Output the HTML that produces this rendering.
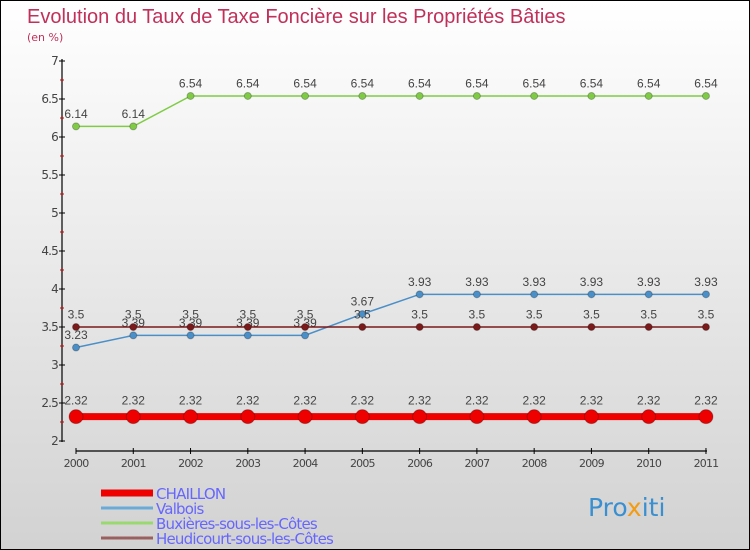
<!DOCTYPE html>
<html><head><meta charset="utf-8"><style>
body{margin:0}
#c{width:750px;height:550px;position:relative;box-sizing:border-box;border:1px solid #000;background:linear-gradient(#ffffff,#d2d2d2);font-family:"DejaVu Sans","Liberation Sans",sans-serif;overflow:hidden}
svg text{font-family:"DejaVu Sans","Liberation Sans",sans-serif}
</style></head><body>
<div id="c">
<svg id="s" width="750" height="550">
<text x="26" y="22" font-size="20" fill="#c0305a" style="font-family:'Liberation Sans',sans-serif">Evolution du Taux de Taxe Foncière sur les Propriétés Bâties</text>
<text x="26" y="40" font-size="11" fill="#c0305a">(en %)</text>
<text x="587" y="515" font-size="25" fill="#3a8fd0">Pro<tspan fill="#f39c12">x</tspan>iti</text>
</svg>
</div>
<script>
const years=['2000','2001','2002','2003','2004','2005','2006','2007','2008','2009','2010','2011'];
const chaillon=[2.32,2.32,2.32,2.32,2.32,2.32,2.32,2.32,2.32,2.32,2.32,2.32];
const valbois=[3.23,3.39,3.39,3.39,3.39,3.67,3.93,3.93,3.93,3.93,3.93,3.93];
const buxieres=[6.14,6.14,6.54,6.54,6.54,6.54,6.54,6.54,6.54,6.54,6.54,6.54];
const heudicourt=[3.5,3.5,3.5,3.5,3.5,3.5,3.5,3.5,3.5,3.5,3.5,3.5];
const yTicks=['2','2.5','3','3.5','4','4.5','5','5.5','6','6.5','7'];
const seriesNames=['CHAILLON','Valbois','Buxières-sous-les-Côtes','Heudicourt-sous-les-Côtes'];
const NS='http://www.w3.org/2000/svg';const s=document.getElementById('s');
const X=i=>75+i*57.27;const Y=v=>440-(v-2)*76;
function el(t,a,n,inter){const e=document.createElementNS(NS,t);for(const k in a)e.setAttribute(k,a[k]);


s.appendChild(e);return e;}
el('line',{x1:61,y1:58,x2:61,y2:441,stroke:'#000','stroke-width':1.2},'y-axis-line');
el('line',{x1:75,y1:450,x2:706,y2:450,stroke:'#000','stroke-width':1.2},'x-axis-line');
yTicks.forEach((t,i)=>{const v=parseFloat(t),y=Y(v);
el('line',{x1:58,y1:y,x2:64,y2:y,stroke:'#000'},'y-tick');
if(i<yTicks.length-1)el('line',{x1:59,y1:Y(v+0.25),x2:63,y2:Y(v+0.25),stroke:'#d00'},'y-minor-tick');
const tx=el('text',{x:57,y:y+4,'font-size':12,fill:'#444','text-anchor':'end','letter-spacing':'-0.8'},'y-tick-label');tx.textContent=t;});
years.forEach((t,i)=>{el('line',{x1:X(i),y1:447,x2:X(i),y2:453,stroke:'#000'},'x-tick');
const tx=el('text',{x:X(i),y:466,'font-size':11,fill:'#444','text-anchor':'middle','letter-spacing':'-0.8'},'x-tick-label');tx.textContent=t;});
function series(d,col,lw,r,name){
el('polyline',{points:d.map((v,i)=>X(i)+','+Y(v)).join(' '),fill:'none',stroke:col,'stroke-width':lw},name+'-line');
d.forEach((v,i)=>{el('circle',{cx:X(i),cy:Y(v),r:r,fill:col,stroke:'rgba(0,0,0,0.25)'},name+'-point');
const tx=el('text',{x:X(i),y:Y(v)-(r+5),'font-size':12,fill:'#444','text-anchor':'middle',style:"font-family:'Liberation Sans',sans-serif"},name+'-value-label');tx.textContent=String(v);});}
series(buxieres,'#7fcc44',1.5,3.5,'buxieres');
series(valbois,'#4a8fc8',1.5,3.5,'valbois');
series(heudicourt,'#7a1a1a',1.5,3.5,'heudicourt');
series(chaillon,'#ee0000',7,7,'chaillon');
const lc=['#ee0000','#6aaad8','#9ad870','#9a6060'],lw=[7,3,3,3];
seriesNames.forEach((n,i)=>{const y=492+i*15;
el('line',{x1:100,y1:y,x2:152,y2:y,stroke:lc[i],'stroke-width':lw[i]},'legend-swatch');
const tx=el('text',{x:155,y:y+6,'font-size':15,fill:'#6666ff','letter-spacing':'-0.8'},'legend-entry');tx.textContent=n;});
</script>
</body></html>
